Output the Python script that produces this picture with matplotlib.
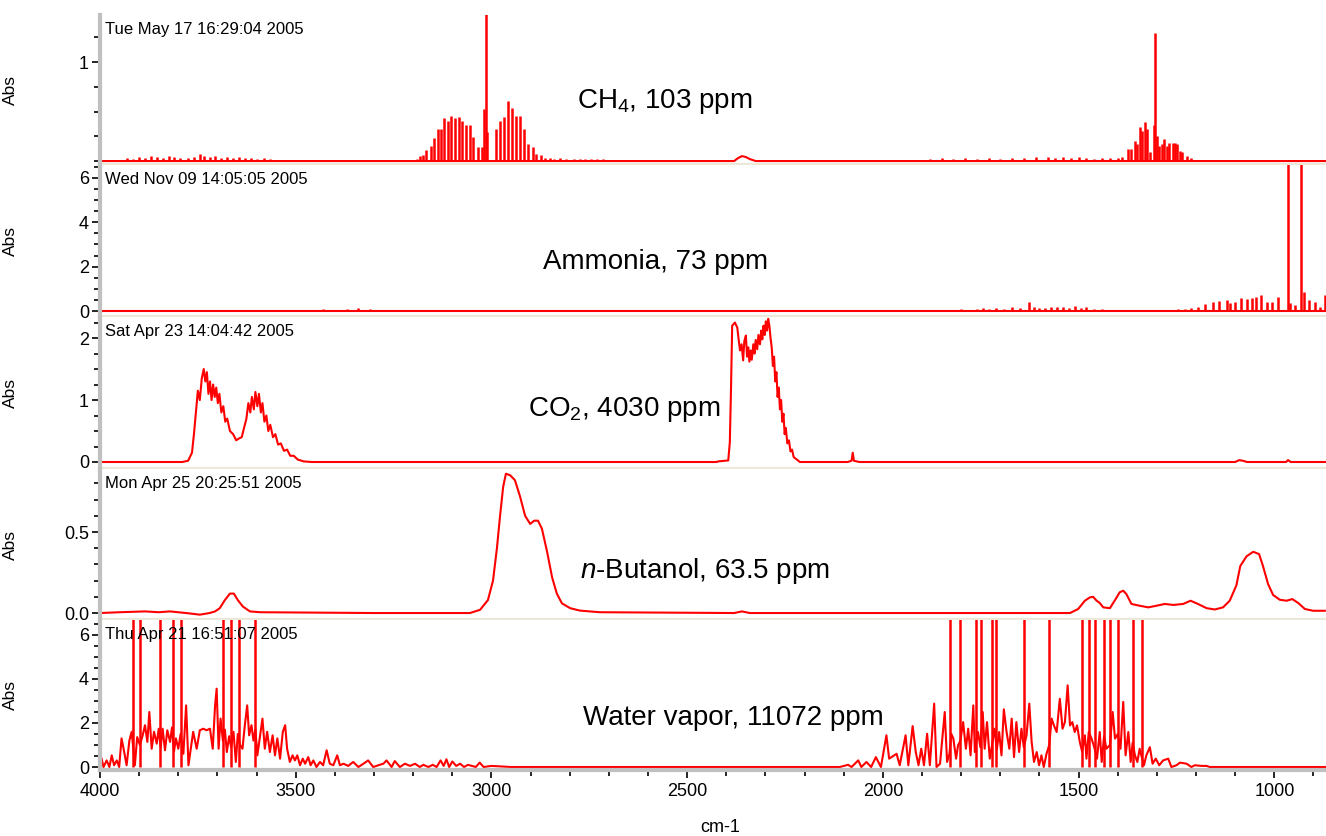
import numpy as np
import matplotlib.pyplot as plt
from matplotlib.ticker import MultipleLocator, FixedLocator, FormatStrFormatter

plt.rcParams['font.family'] = ['Liberation Sans', 'DejaVu Sans']
plt.rcParams['mathtext.fontset'] = 'custom'
plt.rcParams['mathtext.rm'] = 'Liberation Sans'
plt.rcParams['mathtext.it'] = 'Liberation Sans:italic'

# ---------------- data (wavenumber cm-1, absorbance) ----------------
dates = ["Tue May 17 16:29:04 2005", "Wed Nov 09 14:05:05 2005",
         "Sat Apr 23 14:04:42 2005", "Mon Apr 25 20:25:51 2005",
         "Thu Apr 21 16:51:07 2005"]
names = ["CH$_4$, 103 ppm", "Ammonia, 73 ppm", "CO$_2$, 4030 ppm",
         "$n$-Butanol, 63.5 ppm", "Water vapor, 11072 ppm"]

# CH4: broad trace + individual lines
ch4_trace = [(4000, 0), (2380, 0), (2370, 0.03), (2360, 0.05), (2350, 0.04),
             (2340, 0.02), (2325, 0), (868, 0)]
ch4_lines = [(3930, 0.03), (3915, 0.02), (3900, 0.04), (3885, 0.03), (3870, 0.05),
             (3855, 0.04), (3840, 0.03), (3825, 0.05), (3810, 0.04), (3795, 0.03),
             (3775, 0.03), (3760, 0.04), (3745, 0.07), (3735, 0.05), (3720, 0.04),
             (3705, 0.05), (3690, 0.03), (3675, 0.04), (3660, 0.03), (3645, 0.04),
             (3630, 0.03), (3615, 0.03), (3600, 0.02), (3580, 0.03), (3566, 0.02),
             (3200, 0.014), (3191, 0.024), (3183, 0.047), (3174, 0.057), (3166, 0.107),
             (3155, 0.147), (3147, 0.234), (3137, 0.324), (3130, 0.324), (3121, 0.434),
             (3111, 0.407), (3103, 0.457), (3094, 0.434), (3084, 0.44), (3075, 0.407),
             (3065, 0.367), (3055, 0.367), (3046, 0.24), (3035, 0.14), (3025, 0.14),
             (3018, 0.524), (3015, 1.6), (3011, 0.29), (2988, 0.324), (2978, 0.407),
             (2968, 0.44), (2958, 0.607), (2948, 0.54), (2937, 0.457), (2927, 0.457),
             (2917, 0.324), (2906, 0.174), (2895, 0.14), (2885, 0.074), (2874, 0.057),
             (2864, 0.034), (2850, 0.03), (2840, 0.02), (2825, 0.03), (2810, 0.02),
             (2790, 0.02), (2775, 0.02), (2760, 0.02), (2745, 0.02), (2730, 0.02),
             (2715, 0.02),
             (1880, 0.02), (1850, 0.03), (1820, 0.02), (1790, 0.03), (1760, 0.02),
             (1730, 0.03), (1700, 0.02), (1670, 0.03), (1640, 0.03), (1610, 0.04),
             (1578, 0.04), (1560, 0.03), (1540, 0.04), (1520, 0.03), (1500, 0.04),
             (1480, 0.03), (1460, 0.02), (1440, 0.03), (1420, 0.03), (1400, 0.03),
             (1390, 0.04), (1373, 0.126), (1365, 0.126), (1356, 0.203), (1350, 0.17),
             (1344, 0.343), (1337, 0.303), (1331, 0.393), (1325, 0.32), (1318, 0.087),
             (1308, 0.36), (1304, 1.293), (1299, 0.253), (1294, 0.153), (1288, 0.17),
             (1282, 0.226), (1275, 0.153), (1269, 0.186), (1260, 0.186), (1254, 0.186),
             (1248, 0.17), (1241, 0.103), (1235, 0.087), (1224, 0.053), (1214, 0.027),
             (1203, 0.013)]

# Ammonia
nh3_trace = [(4000, 0), (868, 0)]
nh3_lines = [(3520, 0.05), (3490, 0.06), (3460, 0.05), (3430, 0.07), (3400, 0.06),
             (3370, 0.08), (3340, 0.15), (3310, 0.07), (3280, 0.06), (3250, 0.05),
             (3220, 0.05), (3190, 0.04), (3160, 0.04),
             (1820, 0.05), (1800, 0.08), (1780, 0.06), (1760, 0.1), (1745, 0.12),
             (1730, 0.1), (1710, 0.14), (1690, 0.1), (1670, 0.16), (1650, 0.12),
             (1626, 0.42), (1615, 0.2), (1600, 0.15), (1585, 0.12), (1570, 0.2),
             (1555, 0.17), (1540, 0.2), (1525, 0.15), (1510, 0.22), (1495, 0.12),
             (1480, 0.18), (1460, 0.1), (1440, 0.08), (1412, 0.06),
             (1246, 0.09), (1229, 0.08), (1212, 0.12), (1195, 0.2), (1178, 0.3),
             (1156, 0.42), (1141, 0.45), (1122, 0.5), (1112, 0.35), (1101, 0.42),
             (1084, 0.57), (1071, 0.54), (1058, 0.6), (1046, 0.65), (1033, 0.72),
             (1020, 0.39), (1007, 0.42), (990, 0.65), (966, 8.0), (959, 0.35),
             (948, 0.27), (932, 8.0), (925, 0.87), (911, 0.5), (897, 0.42),
             (884, 0.2), (870, 0.72)]

# CO2
co2_trace = [(4000, 0), (3790, 0), (3775, 0.02), (3765, 0.15), (3760, 0.45), (3755, 0.8),
             (3750, 1.15), (3745, 1.0), (3740, 1.35), (3735, 1.5), (3731, 1.3),
             (3727, 1.45), (3723, 1.1), (3719, 1.3), (3715, 1.0), (3711, 1.25),
             (3707, 1.05), (3703, 1.2), (3699, 0.95), (3695, 1.1), (3690, 0.8),
             (3685, 0.9), (3680, 0.65), (3675, 0.7), (3668, 0.5), (3660, 0.45),
             (3652, 0.35), (3645, 0.38), (3638, 0.4), (3632, 0.55), (3626, 0.7),
             (3621, 0.95), (3616, 0.8), (3612, 1.05), (3607, 0.85), (3603, 1.13),
             (3598, 0.9), (3594, 1.1), (3589, 0.8), (3585, 0.95), (3580, 0.65),
             (3575, 0.75), (3570, 0.5), (3565, 0.6), (3558, 0.4), (3552, 0.45),
             (3545, 0.28), (3538, 0.3), (3530, 0.18), (3522, 0.2), (3514, 0.1),
             (3505, 0.1), (3495, 0.04), (3480, 0.01), (3460, 0), (2425, 0),
             (2420, 0.01), (2395, 0.025), (2391, 0.32), (2388, 1.18), (2385, 2.2),
             (2378, 2.25), (2372, 2.17), (2368, 1.95), (2365, 1.8), (2361, 1.9),
             (2357, 1.64), (2354, 1.95), (2350, 2.04), (2347, 1.7), (2344, 1.85),
             (2341, 1.62), (2338, 1.8), (2335, 1.65), (2331, 1.9), (2328, 1.75),
             (2325, 1.97), (2321, 1.82), (2318, 2.05), (2314, 1.9), (2311, 2.12),
             (2308, 1.98), (2305, 2.2), (2302, 2.05), (2299, 2.27), (2296, 2.12),
             (2293, 2.31), (2290, 2.2), (2287, 2.0), (2284, 1.85), (2281, 1.55),
             (2278, 1.7), (2275, 1.3), (2272, 1.45), (2269, 1.05), (2266, 1.2),
             (2263, 0.85), (2260, 1.0), (2257, 0.65), (2254, 0.78), (2251, 0.45),
             (2248, 0.55), (2244, 0.3), (2240, 0.35), (2236, 0.17), (2232, 0.2),
             (2228, 0.08), (2222, 0.05), (2212, 0), (2090, 0), (2080, 0.02),
             (2077, 0.15), (2074, 0.02), (2060, 0), (1100, 0), (1090, 0.03),
             (1080, 0.02), (1070, 0), (970, 0), (965, 0.03), (958, 0), (868, 0)]
co2_lines = []

# n-Butanol
buoh_trace = [(4000, 0), (3950, 0.005), (3885, 0.01), (3850, 0.005), (3821, 0.01),
              (3780, 0.0), (3745, -0.01), (3720, 0.0), (3706, 0.01), (3694, 0.03),
              (3681, 0.08), (3668, 0.12), (3658, 0.12), (3648, 0.08), (3635, 0.04),
              (3617, 0.01), (3591, 0.005), (3300, 0.0), (3055, 0.0), (3029, 0.02),
              (3009, 0.08), (2996, 0.2), (2986, 0.4), (2978, 0.6), (2970, 0.78),
              (2963, 0.86), (2952, 0.85), (2940, 0.82), (2927, 0.72), (2914, 0.6),
              (2901, 0.55), (2891, 0.57), (2881, 0.57), (2871, 0.52), (2858, 0.38),
              (2845, 0.22), (2833, 0.12), (2820, 0.06), (2799, 0.03), (2774, 0.015),
              (2723, 0.005), (2380, 0.0), (2360, 0.01), (2340, 0.0), (1650, 0.0),
              (1522, 0.0), (1501, 0.025), (1484, 0.076), (1471, 0.097), (1463, 0.1),
              (1454, 0.076), (1446, 0.062), (1437, 0.035), (1420, 0.03), (1408, 0.076),
              (1395, 0.128), (1386, 0.138), (1378, 0.117), (1365, 0.056), (1344, 0.045),
              (1322, 0.035), (1301, 0.045), (1280, 0.056), (1258, 0.05), (1233, 0.056),
              (1214, 0.076), (1195, 0.056), (1173, 0.03), (1152, 0.022), (1131, 0.035),
              (1114, 0.076), (1097, 0.17), (1087, 0.29), (1071, 0.35), (1054, 0.378),
              (1039, 0.364), (1029, 0.29), (1016, 0.179), (1003, 0.111), (986, 0.082),
              (969, 0.076), (954, 0.086), (939, 0.062), (922, 0.025), (901, 0.014),
              (871, 0.014)]
buoh_lines = []

# Water vapor
h2o_trace = [(3996, 0.38), (3991, 0), (3983, 0.3), (3976, 0), (3970, 0.53), (3964, 0.08),
             (3957, 0.3), (3951, 0), (3945, 1.3), (3939, 0.76), (3932, 0.08), (3925, 1.2),
             (3919, 1.6), (3911, 0.08), (3905, 1.36), (3898, 1.0), (3891, 1.44),
             (3885, 1.9), (3879, 1.14), (3874, 2.5), (3868, 0.83), (3862, 1.6),
             (3855, 1.06), (3850, 1.74), (3845, 0.9), (3840, 1.74), (3834, 0.76),
             (3828, 1.67), (3821, 1.14), (3816, 1.8), (3811, 0.7), (3806, 1.3),
             (3800, 0.83), (3794, 1.5), (3787, 0.6), (3780, 2.8), (3774, 0.08),
             (3768, 0.83), (3762, 1.6), (3753, 0.83), (3745, 1.67), (3736, 1.74),
             (3728, 1.67), (3719, 1.74), (3712, 0.83), (3706, 2.8), (3702, 3.56),
             (3697, 0.83), (3692, 2.2), (3686, 1.2), (3681, 1.7), (3676, 0.68),
             (3670, 1.4), (3665, 0.9), (3659, 1.6), (3653, 0.23), (3648, 1.5),
             (3642, 1.0), (3636, 0.83), (3630, 1.9), (3624, 2.8), (3619, 1.44),
             (3613, 1.9), (3608, 1.2), (3603, 1.7), (3598, 0.53), (3591, 1.44),
             (3585, 2.2), (3579, 0.83), (3573, 1.6), (3566, 0.68), (3559, 1.44),
             (3553, 0.53), (3547, 1.3), (3540, 0.38), (3533, 1.6), (3527, 1.9),
             (3522, 0.83), (3515, 0.23), (3508, 0.53), (3502, 0.3), (3496, 0.53),
             (3489, 0.08), (3482, 0.38), (3476, 0.15), (3468, 0.45), (3462, 0.08),
             (3455, 0.3), (3447, 0), (3438, 0.23), (3430, 0.08), (3421, 0.76),
             (3413, 0.15), (3404, 0.08), (3394, 0.53), (3387, 0.08), (3378, 0.15),
             (3366, 0.05), (3353, 0.23), (3340, 0), (3327, 0.15), (3315, 0.3),
             (3302, 0), (3289, 0.08), (3276, 0.15), (3268, 0.3), (3255, 0),
             (3247, 0.27), (3234, 0), (3221, 0.15), (3208, 0.05), (3195, 0.15),
             (3183, 0), (3174, 0.1), (3161, 0), (3150, 0.1), (3140, 0), (3130, 0.3),
             (3122, 0.05), (3115, 0.35), (3108, 0), (3100, 0.25), (3090, 0.05),
             (3080, 0.15), (3070, 0), (3060, 0.1), (3040, 0), (3030, 0.2), (3020, 0),
             (3000, 0.05), (2950, 0), (2110, 0), (2089, 0.1), (2080, 0), (2063, 0.3),
             (2055, 0), (2042, 0.23), (2030, 0), (2018, 0.45), (2005, 0), (1991, 1.44),
             (1984, 0.38), (1965, 0.6), (1957, 0.08), (1942, 1.44), (1935, 0.08),
             (1924, 1.86), (1916, 0.68), (1909, 0.08), (1902, 0.83), (1895, 0.08),
             (1887, 1.51), (1880, 0.08), (1869, 2.88), (1863, 0), (1854, 0.15),
             (1842, 2.5), (1836, 0.23), (1830, 0.6), (1825, 1.5), (1820, 1.29),
             (1813, 0.38), (1808, 0.98), (1802, 1.2), (1795, 2.04), (1788, 0.83),
             (1782, 1.74), (1776, 0.53), (1769, 2.8), (1765, 0.68), (1761, 1.2),
             (1757, 1.59), (1751, 0.9), (1745, 2.5), (1740, 0.83), (1734, 2.04),
             (1727, 0.38), (1721, 1.0), (1715, 1.74), (1709, 0.8), (1703, 1.59),
             (1697, 0.53), (1691, 2.62), (1684, 1.59), (1677, 0.83), (1671, 2.2),
             (1665, 0.45), (1659, 2.04), (1652, 0.68), (1646, 1.74), (1640, 0.9),
             (1633, 1.44), (1626, 2.88), (1620, 1.14), (1614, 0.23), (1607, 0.68),
             (1601, 0.08), (1595, 0.53), (1589, 0), (1582, 0.6), (1575, 1.0),
             (1569, 2.2), (1563, 1.89), (1556, 1.59), (1548, 3.1), (1541, 1.74),
             (1535, 2.04), (1528, 3.71), (1522, 1.89), (1516, 2.04), (1510, 1.59),
             (1504, 1.89), (1497, 1.14), (1491, 0.7), (1484, 1.44), (1480, 0.38),
             (1474, 1.6), (1467, 1.29), (1460, 0.9), (1453, 0.38), (1446, 1.59),
             (1441, 0.23), (1435, 1.4), (1429, 0.83), (1420, 1.0), (1413, 2.5),
             (1407, 1.29), (1400, 1.5), (1393, 0.83), (1386, 2.96), (1380, 0.53),
             (1373, 1.59), (1367, 0.23), (1362, 1.1), (1356, 0.53), (1350, 0.23),
             (1344, 0.83), (1338, 0.4), (1333, 0.08), (1327, 0.53), (1318, 0.9),
             (1311, 0.15), (1303, 0.38), (1294, 0.08), (1284, 0.3), (1271, 0.38),
             (1263, 0), (1250, 0.08), (1241, 0.2), (1224, 0.15), (1212, 0),
             (1203, 0.08), (1186, 0.05), (1173, 0.05), (1165, 0), (868, 0)]
h2o_lines = [(3915, 8.0), (3898, 8.0), (3847, 8.0), (3813, 8.0), (3793, 8.0),
             (3685, 8.0), (3666, 8.0), (3644, 8.0), (3604, 8.0),
             (1829, 8.0), (1802, 8.0), (1761, 8.0), (1750, 8.0), (1720, 8.0),
             (1710, 8.0), (1639, 8.0), (1575, 8.0), (1491, 8.0), (1474, 8.0),
             (1458, 8.0), (1436, 8.0), (1420, 8.0), (1400, 8.0), (1362, 8.0),
             (1338, 8.0)]

traces = [ch4_trace, nh3_trace, co2_trace, buoh_trace, h2o_trace]
lines = [ch4_lines, nh3_lines, co2_lines, buoh_lines, h2o_lines]

# label positions (wavenumber, absorbance) of the compound names
name_pos = [(2557, 0.60), (2582, 2.2), (2662, 0.84), (2455, 0.26), (2383, 2.23)]

# ---------------- layout ----------------
W, H = 1326, 836
edges = [15, 165, 317, 469, 620, 770]   # panel borders, px from top
ylims = [(-0.04, 1.475), (-0.27, 6.58), (-0.113, 2.34), (-0.043, 0.889), (-0.136, 6.68)]
major_y = [[1], [0, 2, 4, 6], [0, 1, 2], [0.0, 0.5], [0, 2, 4, 6]]
minor_y = [0.25, 0.5, 0.25, 0.1, 0.5]
red = '#ff0000'
beige = '#ece9d8'
gray = '#c0c0c0'


def set_up_panel(ax, i):
    ax.set_xlim(4000, 868)
    ax.set_ylim(*ylims[i])
    for side in ('top', 'right'):
        ax.spines[side].set_visible(False)
    ax.spines['left'].set_color(gray)
    ax.spines['left'].set_linewidth(3)
    # beige separator between panels, gray axis at the bottom
    ax.spines['bottom'].set_linewidth(3.8 if i < 4 else 3)
    ax.spines['bottom'].set_color(beige if i < 4 else gray)

    ax.yaxis.set_major_locator(FixedLocator(major_y[i]))
    ax.yaxis.set_minor_locator(MultipleLocator(minor_y[i]))
    if i == 3:
        ax.yaxis.set_major_formatter(FormatStrFormatter('%.1f'))
    ax.tick_params(axis='y', which='major', direction='out', length=6, width=1.2,
                   color='black', labelsize=13, pad=2)
    ax.tick_params(axis='y', which='minor', direction='out', length=4, width=1.2,
                   color='black')
    ax.set_ylabel('Abs', fontsize=12.5)
    ax.yaxis.set_label_coords(-0.067, 0.5)

    if i < 4:
        ax.tick_params(axis='x', which='both', bottom=False, labelbottom=False)
    else:
        ax.xaxis.set_major_locator(MultipleLocator(500))
        ax.xaxis.set_minor_locator(MultipleLocator(100))
        ax.tick_params(axis='x', which='major', direction='out', length=6, width=1.2,
                       color='black', labelsize=13, pad=3)
        ax.tick_params(axis='x', which='minor', direction='out', length=4, width=1.2,
                       color='black')


fig = plt.figure(figsize=(W / 100, H / 100), dpi=100)

for i in range(5):
    top, bottom = edges[i], edges[i + 1]
    ax = fig.add_axes([100 / W, 1 - bottom / H, 1226 / W, (bottom - top) / H])
    set_up_panel(ax, i)

    wn, ab = np.array(traces[i], dtype=float).T
    ax.plot(wn, ab, color=red, lw=1.5)
    if lines[i]:
        lwn, lab = np.array(lines[i], dtype=float).T
        ax.vlines(lwn, 0, lab, color=red, lw=1.8)

    ax.text(0.004, 0.955, dates[i], transform=ax.transAxes, fontsize=12,
            ha='left', va='top')
    ax.text(name_pos[i][0], name_pos[i][1], names[i], fontsize=20,
            ha='center', va='center')

fig.text(720 / W, 1 - 828 / H, 'cm-1', fontsize=13, ha='center', va='center')

fig.savefig('out.png', dpi=100)
